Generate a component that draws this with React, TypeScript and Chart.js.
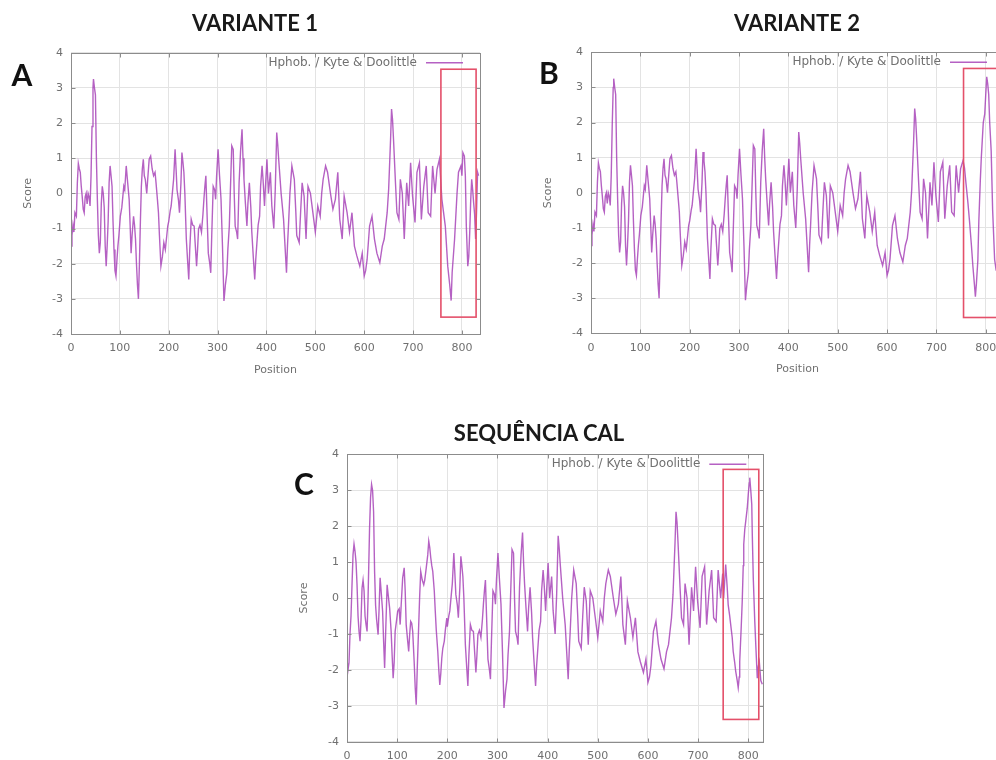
import React, { useEffect, useRef } from "react";
import { Chart, registerables } from "chart.js";

Chart.register(...registerables);

// ---- data (position, Kyte & Doolittle score) ----
const headPositionsAB = [0,2,4,6,8,11,13,15,17,19,21,23,25,27,29,31,33,35,37,39,41,43,45,46,48,50,52,54,56,58,60,62,64,66,68,70,72,74,76,78,80,82,84,86,88,90,92,94,96,98,101,104,106,108,110,113,116,119,121,123,125,128,130,132,134,136,138,140,142,144,146,148,150,152,155,157,160,163,166,169,172,174,177,179,181,184,187,190,193,196,198];
const headScoresAB = [-1.5,-1.2,-0.9,-1.1,-0.55,-0.65,0.3,0.85,0.7,0.6,0.2,-0.1,-0.45,-0.55,-0.1,0.0,-0.3,0.0,-0.1,-0.36,0.5,1.9,3.0,3.25,3.0,2.8,1.0,-0.2,-1.2,-1.7,-1.4,-0.3,0.2,0.0,-0.4,-1.5,-2.07,-1.5,-0.8,0.3,0.78,0.5,0.2,-0.8,-1.6,-2.2,-2.35,-1.9,-1.5,-1.2,-0.65,-0.4,-0.1,0.2,0.1,0.78,0.3,-0.17,-0.9,-1.7,-1.2,-0.65,-0.9,-1.3,-2.0,-2.6,-3.0,-2.0,-0.8,0.2,0.7,0.97,0.5,0.4,0.0,0.4,0.97,1.06,0.7,0.5,0.6,0.3,-0.2,-0.55,-1.2,-2.07,-1.8,-1.4,-1.6,-1.2,-0.93];

const headPositionsC = [0,2,4,6,8,10,12,14,16,18,20,22,24,26,28,30,32,34,36,38,40,42,45,47,49,51,53,55,57,59,62,64,66,68,71,73,75,77,80,82,85,88,90,92,94,96,99,101,104,106,108,111,114,116,118,121,123,125,127,129,131,134,136,138,140,143,145,147,150,153,155,158,161,163,165,167,169,171,174,176,178,181,183,185,187,189,191,194,196,199];
const headScoresC = [-1.7,-2.0,-1.8,-1.0,-0.5,0.37,1.2,1.5,1.3,1.0,0.37,-0.5,-0.93,-1.2,-0.6,0.28,0.5,0.2,-0.5,-0.74,-0.93,0.0,1.95,2.8,3.16,3.0,2.4,0.74,-0.2,-0.6,-1.02,-0.3,0.56,0.2,-0.37,-1.2,-1.95,-1.0,0.37,0.1,-0.28,-0.93,-1.6,-2.23,-1.8,-0.93,-0.6,-0.37,-0.3,-0.74,-0.2,0.56,0.84,0.2,-0.74,-1.2,-1.49,-1.0,-0.65,-0.7,-0.93,-1.8,-2.5,-2.97,-2.0,-0.74,0.1,0.74,0.5,0.37,0.5,0.84,1.2,1.58,1.4,1.12,0.9,0.74,0.2,-0.37,-0.9,-1.49,-2.0,-2.42,-2.1,-1.67,-1.4,-1.2,-0.9,-0.56];

const midPositions = [200,203,205,208,210,213,215,217,220,222,225,227,229,231,233,236,239,241,243,246,249,252,254,257,259,261,264,267,270,272,274,276,278,281,284,286,288,291,294,296,298,301,304,307,310,313,316,319,321,324,326,329,332,334,336,339,341,344,347,350,352,354,357,360,362,365,368,370,373,376,378,381,383,386,388,391,393,396,398,401,404,408,411,415,418,421,423,425,430,435,438,441,443,445,448,452,457,460,462,467,470,473,477,481,485,490,495,500,505,510,513,516,521,525,531,536,541,546,550,555,559,565,570,575,580,585,591,596,600,603,606,611,616,621,626,632,637,641,647,650,654,656,658,660,664,667,671,674,678,682,687,691,695,699,704,708,713,717,722,727,731,736,740,745,749];
const midScores = [-0.8,-0.5,-0.36,0.1,0.4,1.25,0.7,0.1,-0.2,-0.55,0.3,1.16,0.9,0.6,0.0,-1.3,-2.0,-2.45,-1.6,-0.74,-0.9,-0.93,-1.4,-2.07,-1.6,-1.02,-0.9,-1.1,-0.6,-0.17,0.2,0.5,-0.4,-1.7,-2.0,-2.26,-1.2,0.2,0.1,-0.17,0.5,1.25,0.5,-0.17,-1.5,-3.06,-2.6,-2.26,-1.6,-0.93,0.0,1.35,1.25,0.0,-0.93,-1.1,-1.3,0.3,1.2,1.82,1.0,0.4,-0.3,-0.93,-0.3,0.3,-0.4,-1.1,-1.8,-2.45,-1.9,-1.3,-0.9,-0.65,0.2,0.78,0.4,-0.36,0.2,0.97,0.0,0.6,-0.36,-1.0,0.1,1.73,1.4,0.97,0.0,-0.74,-1.5,-2.26,-1.5,-0.93,0.0,0.78,0.4,-0.5,-1.2,-1.4,-0.5,0.3,-0.08,-1.3,0.2,0.0,-0.55,-1.1,-0.36,-0.65,0.0,0.4,0.78,0.6,0.0,-0.45,-0.17,0.6,-0.74,-1.3,-0.08,-0.55,-1.1,-0.55,-1.5,-1.78,-2.07,-1.7,-2.35,-2.2,-1.88,-0.93,-0.65,-1.3,-1.7,-1.97,-1.5,-1.3,-0.55,0.1,1.54,2.4,2.1,1.54,0.3,-0.55,-0.74,0.4,0.0,-1.3,0.3,-0.36,0.87,-0.08,-0.83,0.6,0.87,-0.74,0.2,0.78,-0.55,-0.65,0.78,0.0,0.68];

const tailPositionsA = [754,759,762,766,771,775,778,780,785,790,793,798,800,802,805,807,809,812,814,816,818,820,822,824,826,828,830,832,834];
const tailScoresA = [0.97,-0.17,-0.5,-0.93,-2.07,-2.6,-3.05,-2.26,-1.3,0.0,0.6,0.78,0.5,1.16,1.06,0.5,-0.93,-2.07,-1.8,-1.1,-0.2,0.4,0.1,-0.27,-0.6,-1.3,-0.5,0.6,0.5];

const tailPositionsB = [754,757,760,764,767,771,774,777,779,781,784,786,789,791,793,795,798,800,802,804,806,808,811,814,818,821,825,830];
const tailScoresB = [0.92,0.7,0.26,-0.3,-0.79,-1.5,-2.1,-2.6,-2.96,-2.6,-1.92,-0.8,0.35,1.0,1.5,2.0,2.25,2.8,3.3,3.1,2.8,2.0,1.2,-0.5,-1.9,-2.2,-2.3,-1.8];

const tailPositionsC = [751,755,758,760,763,765,768,770,773,775,778,780,782,783,786,788,790,791,793,795,798,800,802,803,805,807,808,810,813,815,818,820,822,825,828];
const tailScoresC = [0.0,0.93,0.3,-0.19,-0.5,-0.74,-1.1,-1.49,-1.8,-2.04,-2.3,-2.5,-2.2,-1.77,-0.8,-0.09,0.9,1.49,1.9,2.14,2.5,2.88,3.2,3.35,3.0,2.6,1.8,0.56,-0.65,-1.3,-2.23,-1.9,-1.77,-2.3,-2.4];

// highlighted regions [posStart, posEnd, scoreLow, scoreHigh]
const boxA = [757, 829, -3.52, 3.53];
const boxB = [755, 829, -3.55, 3.54];
const boxC = [750, 821, -3.38, 3.58];

const positionMax = [837, 837, 830];
const panelTitles = ["VARIANTE 1", "VARIANTE 2", "SEQUÊNCIA CAL"];
const panelLetters = ["A", "B", "C"];
const legendLabel = "Hphob. / Kyte & Doolittle";
const xAxisLabel = "Position";
const yAxisLabel = "Score";

// ---- styles ----
const LINE_COLOR = "rgba(165, 62, 182, 0.82)";
const BOX_COLOR = "#e4506a";
const TEXT_COLOR = "#707070";
const GRID_COLOR = "#e3e3e3";
const FRAME_COLOR = "#8c8c8c";
const AXIS_FONT = "DejaVu Sans";
const X_AXIS_H = 51;

function zip(pos: number[], val: number[]) {
  const n = Math.min(pos.length, val.length);
  const out: { x: number; y: number }[] = [];
  for (let i = 0; i < n; i++) out.push({ x: pos[i], y: val[i] });
  return out;
}

const seriesA = [...zip(headPositionsAB, headScoresAB), ...zip(midPositions, midScores), ...zip(tailPositionsA, tailScoresA)];
const seriesB = [...zip(headPositionsAB, headScoresAB), ...zip(midPositions, midScores), ...zip(tailPositionsB, tailScoresB)];
const seriesC = [...zip(headPositionsC, headScoresC), ...zip(midPositions, midScores), ...zip(tailPositionsC, tailScoresC)];

const framePlugin = {
  id: "frame",
  afterDraw(chart: any, _args: any, opts: any) {
    const { ctx, chartArea: a, scales } = chart;
    const x = scales.x;
    const y = scales.y;
    ctx.save();
    // highlight box
    const [b0, b1, bLow, bHigh] = opts.box;
    const px0 = x.getPixelForValue(b0);
    const px1 = x.getPixelForValue(b1);
    const py0 = y.getPixelForValue(bHigh);
    const py1 = y.getPixelForValue(bLow);
    ctx.strokeStyle = BOX_COLOR;
    ctx.lineWidth = 1.6;
    ctx.strokeRect(px0, py0, px1 - px0, py1 - py0);

    // frame
    const L = Math.round(a.left) + 0.5;
    const R = Math.round(a.right) + 0.5;
    const T = Math.round(a.top) + 0.5;
    const B = Math.round(a.bottom) + 0.5;
    ctx.strokeStyle = FRAME_COLOR;
    ctx.lineWidth = 1;
    ctx.strokeRect(L, T, R - L, B - T);
    // inward tick marks
    ctx.beginPath();
    for (const t of x.ticks) {
      const px = Math.round(x.getPixelForValue(t.value)) + 0.5;
      ctx.moveTo(px, B); ctx.lineTo(px, B - 4);
      ctx.moveTo(px, T); ctx.lineTo(px, T + 4);
    }
    for (const t of y.ticks) {
      const py = Math.round(y.getPixelForValue(t.value)) + 0.5;
      ctx.moveTo(L, py); ctx.lineTo(L + 4, py);
      ctx.moveTo(R, py); ctx.lineTo(R - 4, py);
    }
    ctx.stroke();

    // legend
    const ly = a.top + 10;
    ctx.font = `12px "${AXIS_FONT}"`;
    ctx.fillStyle = TEXT_COLOR;
    ctx.textAlign = "right";
    ctx.textBaseline = "middle";
    ctx.fillText(legendLabel, a.right - 63, ly);
    ctx.strokeStyle = LINE_COLOR;
    ctx.lineWidth = 1.4;
    ctx.beginPath();
    ctx.moveTo(a.right - 54, ly);
    ctx.lineTo(a.right - 17, ly);
    ctx.stroke();
    ctx.restore();
  },
};

type Spec = {
  canvasLeft: number;
  canvasTop: number;
  plotLeft: number;
  plotTop: number;
  plotRight: number;
  plotBottom: number;
  xMax: number;
  data: { x: number; y: number }[];
  box: number[];
};

function Panel({ spec }: { spec: Spec }) {
  const ref = useRef<HTMLCanvasElement>(null);
  const cw = Math.ceil(spec.plotRight - spec.canvasLeft + 10);
  const ch = Math.ceil(spec.plotBottom - spec.canvasTop + X_AXIS_H);

  useEffect(() => {
    if (!ref.current) return;
    const yAxisW = spec.plotLeft - spec.canvasLeft;
    const padTop = spec.plotTop - spec.canvasTop;
    const padRight = cw - (spec.plotRight - spec.canvasLeft);
    const xAxisH = ch - (spec.plotBottom - spec.canvasTop);
    const lh = 11 * 1.2;
    const xTitlePadBottom = ch - (spec.plotBottom - spec.canvasTop + 36) - lh / 2;
    const yTitlePadTop = yAxisW - 43 - lh / 2;
    const tickFont = { family: AXIS_FONT, size: 11 };

    const chart = new Chart(ref.current, {
      type: "line",
      data: {
        datasets: [
          {
            data: spec.data,
            borderColor: LINE_COLOR,
            borderWidth: 1.4,
            pointRadius: 0,
            tension: 0,
            fill: false,
          },
        ],
      },
      options: {
        animation: false,
        responsive: false,
        maintainAspectRatio: false,
        layout: { padding: { left: 0, right: padRight, top: padTop, bottom: 0 } },
        plugins: {
          legend: { display: false },
          tooltip: { enabled: false },
          title: { display: false },
          frame: { box: spec.box },
        } as any,
        scales: {
          x: {
            type: "linear",
            min: 0,
            max: spec.xMax,
            ticks: { stepSize: 100, includeBounds: false, color: TEXT_COLOR, font: tickFont, padding: 8, maxRotation: 0 },
            grid: { color: GRID_COLOR, drawTicks: false },
            border: { display: false },
            title: { display: true, text: xAxisLabel, color: TEXT_COLOR, font: tickFont, padding: { top: 0, bottom: xTitlePadBottom } },
            afterFit: (s: any) => { s.height = xAxisH; },
          },
          y: {
            type: "linear",
            min: -4,
            max: 4,
            ticks: { stepSize: 1, color: TEXT_COLOR, font: tickFont, padding: 8 },
            grid: { color: GRID_COLOR, drawTicks: false },
            border: { display: false },
            title: { display: true, text: yAxisLabel, color: TEXT_COLOR, font: tickFont, padding: { top: yTitlePadTop, bottom: 0 } },
            afterFit: (s: any) => { s.width = yAxisW; },
          },
        } as any,
      },
      plugins: [framePlugin as any],
    });
    return () => chart.destroy();
  }, []);

  return (
    <canvas
      ref={ref}
      width={cw}
      height={ch}
      style={{ position: "absolute", left: spec.canvasLeft, top: spec.canvasTop, width: cw, height: ch }}
    />
  );
}

const specs: Spec[] = [
  { canvasLeft: 0, canvasTop: 0, plotLeft: 71, plotTop: 52.7, plotRight: 480, plotBottom: 334, xMax: positionMax[0], data: seriesA, box: boxA },
  { canvasLeft: 520, canvasTop: 0, plotLeft: 591, plotTop: 52.3, plotRight: 1004, plotBottom: 333.3, xMax: positionMax[1], data: seriesB, box: boxB },
  { canvasLeft: 276, canvasTop: 400, plotLeft: 347, plotTop: 454.3, plotRight: 763.3, plotBottom: 741.7, xMax: positionMax[2], data: seriesC, box: boxC },
];

const titlePos = [
  { cx: 255, cy: 23 },
  { cx: 797, cy: 23 },
  { cx: 539, cy: 433 },
];
const letterPos = [
  { cx: 22, cy: 74 },
  { cx: 549, cy: 72 },
  { cx: 304, cy: 483 },
];

export default function App() {
  return (
    <div
      style={{
        position: "fixed",
        left: 0,
        top: 0,
        width: 996,
        height: 760,
        overflow: "hidden",
        background: "#ffffff",
      }}
    >
      {specs.map((s, i) => (
        <Panel key={i} spec={s} />
      ))}
      {panelTitles.map((t, i) => (
        <div
          key={"t" + i}
          style={{
            position: "absolute",
            left: titlePos[i].cx - 150,
            top: titlePos[i].cy - 14,
            width: 300,
            height: 28,
            lineHeight: "28px",
            textAlign: "center",
            fontFamily: "Lato, 'Open Sans', sans-serif",
            fontWeight: 700,
            fontSize: 22,
            color: "#1a1a1a",
          }}
        >
          {t}
        </div>
      ))}
      {panelLetters.map((t, i) => (
        <div
          key={"l" + i}
          style={{
            position: "absolute",
            left: letterPos[i].cx - 20,
            top: letterPos[i].cy - 18,
            width: 40,
            height: 36,
            lineHeight: "36px",
            textAlign: "center",
            fontFamily: "Lato, 'Open Sans', sans-serif",
            fontWeight: 700,
            fontSize: 30,
            color: "#111111",
          }}
        >
          {t}
        </div>
      ))}
    </div>
  );
}
